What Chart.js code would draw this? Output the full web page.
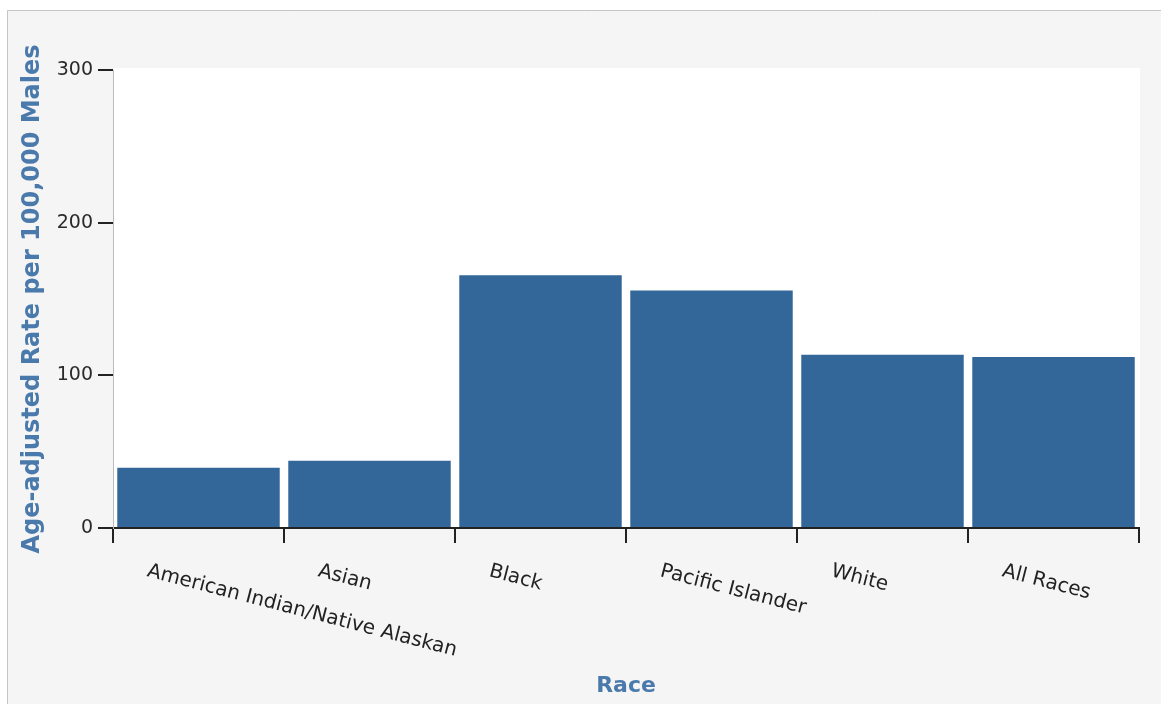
<!DOCTYPE html>
<html>
<head>
<meta charset="utf-8">
<script src="https://cdn.jsdelivr.net/npm/chart.js@4/dist/chart.umd.min.js"></script>
<style>
  html, body { margin: 0; padding: 0; background: #fff; overflow: hidden; }
  canvas { display: block; }
</style>
</head>
<body>
<canvas id="chart" width="1161" height="704"></canvas>
<script>
const categories = ['American Indian/Native Alaskan', 'Asian', 'Black', 'Pacific Islander', 'White', 'All Races'];
const rates = [39.5, 44, 165.5, 155.5, 113.5, 112];
const yTicks = [0, 100, 200, 300];

const FONT = 'DejaVu Sans';
const TITLE_COLOR = '#4a7aab';
const BAR_COLOR = '#336699';

// grey frame, then the white plot area behind the bars
const plotBackground = {
  id: 'plot_background',
  beforeDraw: chart => {
    const { ctx, chartArea, width, height } = chart;
    ctx.save();
    ctx.fillStyle = '#ffffff';
    ctx.fillRect(0, 0, width, height);
    ctx.fillStyle = '#f5f5f5';
    ctx.fillRect(7, 10, width - 7, height - 10);
    ctx.strokeStyle = '#c4c4c4';
    ctx.lineWidth = 1;
    ctx.beginPath();
    ctx.moveTo(7.5, height);
    ctx.lineTo(7.5, 10.5);
    ctx.lineTo(width, 10.5);
    ctx.stroke();
    ctx.fillStyle = '#ffffff';
    ctx.fillRect(chartArea.left, chartArea.top - 2, chartArea.right - chartArea.left + 1, chartArea.bottom - chartArea.top + 2);
    ctx.restore();
  },
};

// category labels slant down to the right, so draw them here
const slantedLabels = {
  id: 'slanted_labels',
  afterDraw: chart => {
    const { ctx } = chart;
    const xScale = chart.scales.x;
    ctx.save();
    ctx.font = `20px "${FONT}"`;
    ctx.fillStyle = '#222';
    ctx.textAlign = 'left';
    ctx.textBaseline = 'middle';
    categories.forEach((label, index) => {
      const x = xScale.getPixelForValue(index) - 51;
      ctx.save();
      ctx.translate(x, 571);
      ctx.rotate(14.5 * Math.PI / 180);
      ctx.fillText(label, 0, 0);
      ctx.restore();
    });
    ctx.restore();
  },
};

new Chart(document.getElementById('chart'), {
  type: 'bar',
  data: {
    labels: categories,
    datasets: [{
      label: 'Rate',
      data: rates,
      backgroundColor: BAR_COLOR,
      borderWidth: 0,
      barPercentage: 0.95,
      categoryPercentage: 1,
    }],
  },
  plugins: [plotBackground, slantedLabels],
  options: {
    responsive: false,
    animation: false,
    layout: {
      padding: { top: 70, right: 22, bottom: 0, left: 0 },
    },
    plugins: {
      legend: { display: false },
      tooltip: { enabled: false },
    },
    scales: {
      x: {
        afterFit: scale => { scale.height = 176; },
        grid: {
          offset: true,
          drawOnChartArea: false,
          drawTicks: true,
          tickLength: 15,
          tickColor: '#222',
          lineWidth: 2,
        },
        border: { color: '#222', width: 2 },
        ticks: { display: false },
        title: {
          display: true,
          text: 'Race',
          color: TITLE_COLOR,
          font: { family: FONT, size: 22, weight: 'bold' },
          padding: { top: 0, bottom: 5 },
        },
      },
      y: {
        min: 0,
        max: 300,
        afterFit: scale => { scale.width = 113; },
        afterBuildTicks: scale => { scale.ticks = yTicks.map(value => ({ value })); },
        grid: {
          drawOnChartArea: false,
          drawTicks: true,
          tickLength: 15,
          tickColor: '#222',
          lineWidth: 2,
        },
        border: { color: '#bbbbbb', width: 1 },
        ticks: {
          padding: 5,
          color: '#2a2a2a',
          font: { family: FONT, size: 19 },
        },
        title: {
          display: true,
          text: 'Age-adjusted Rate per 100,000 Males',
          color: TITLE_COLOR,
          font: { family: FONT, size: 24, weight: 'bold' },
          padding: { top: 18, bottom: 0 },
        },
      },
    },
  },
});
</script>
</body>
</html>
